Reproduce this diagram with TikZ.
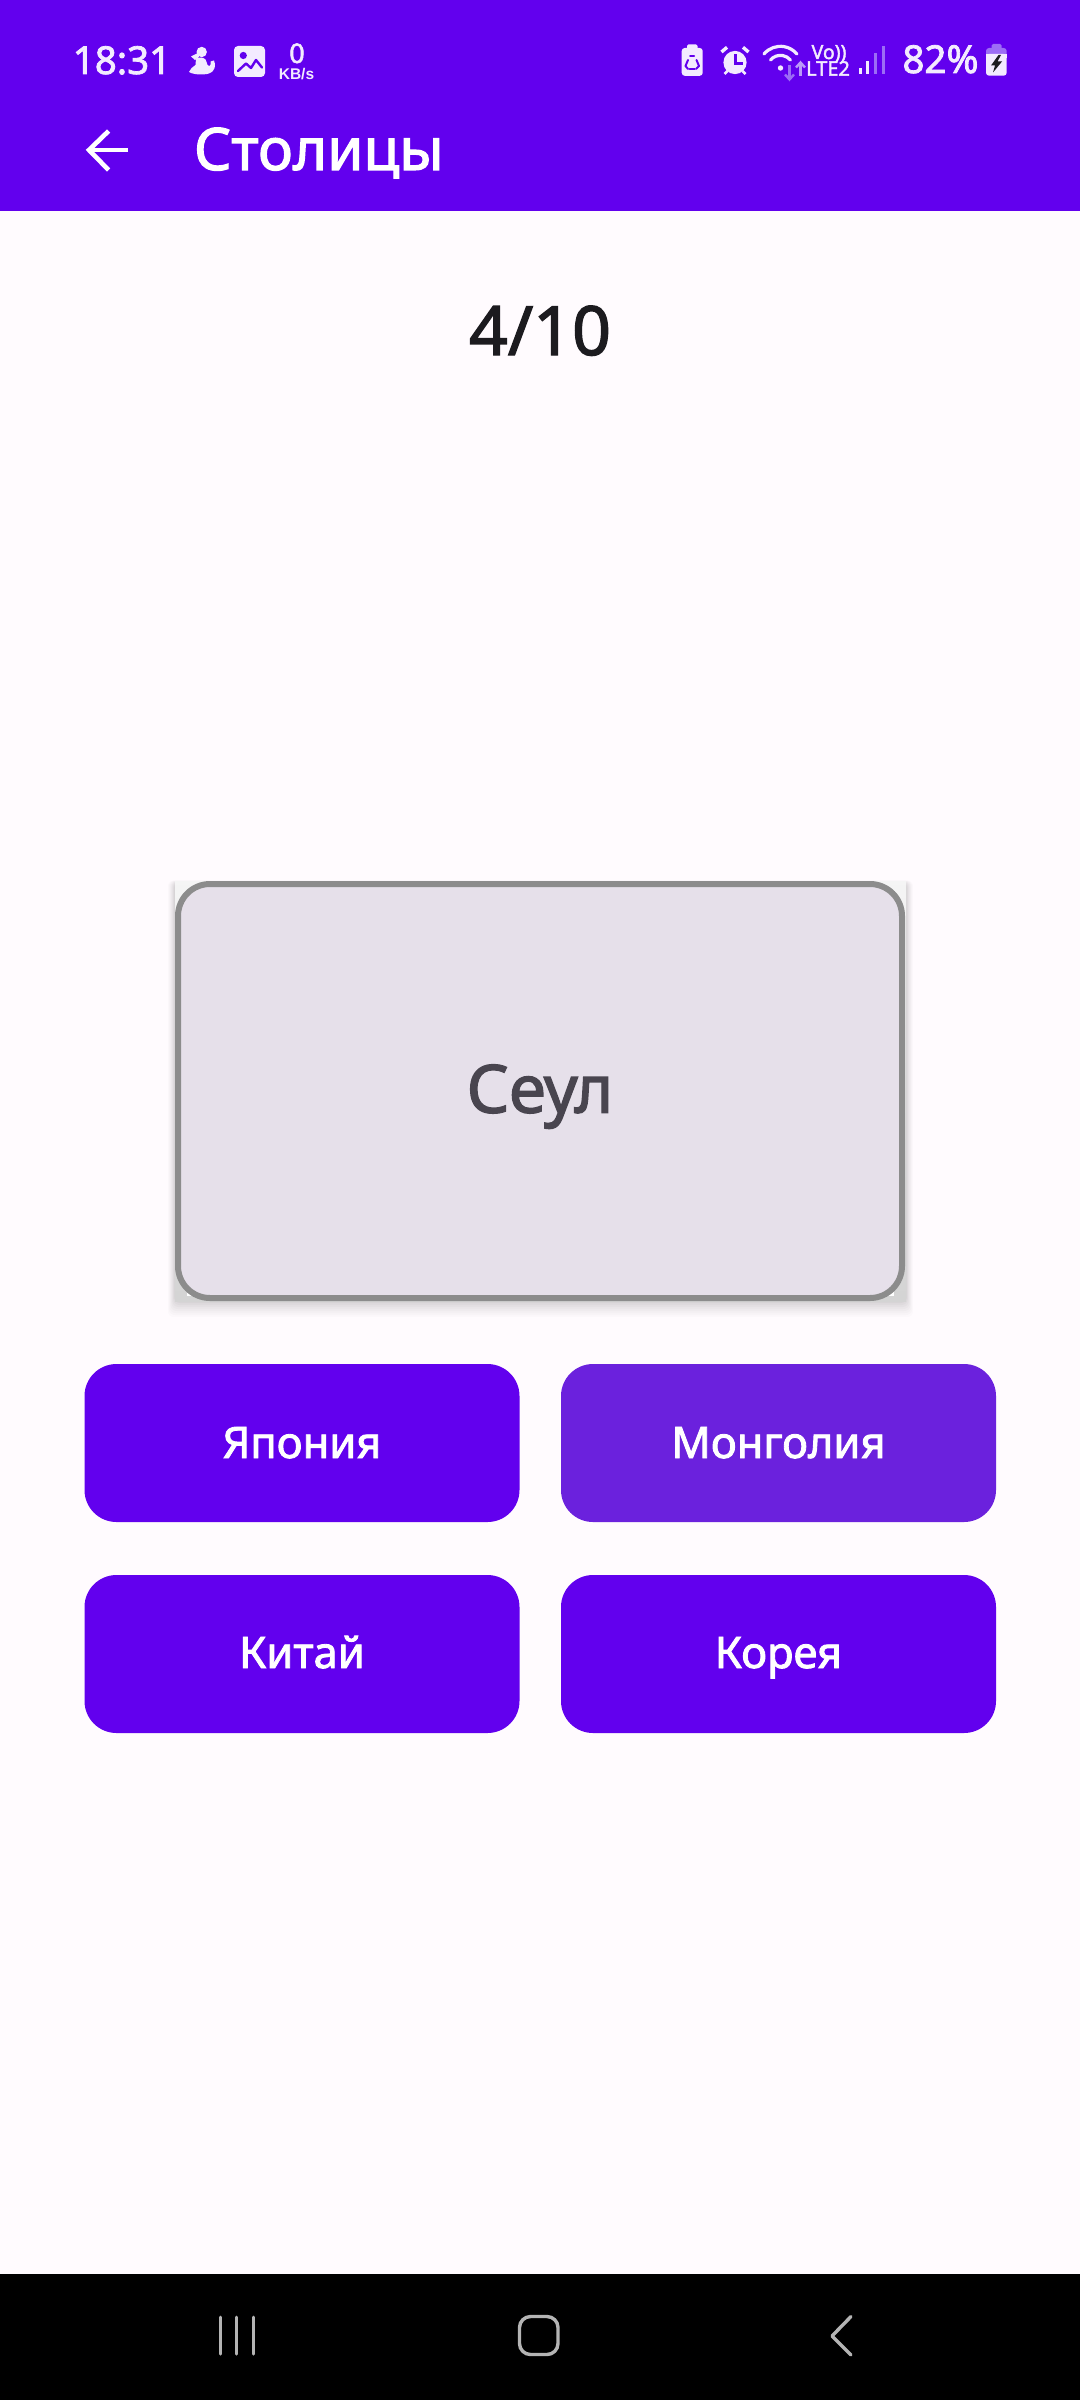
\documentclass[tikz,border=0pt]{standalone}
\usepackage{fontspec}
\setmainfont{Noto Sans}
\newfontfamily\medfont[FakeBold=2]{Noto Sans}
\newfontfamily\arialb{Liberation Sans Bold}
\newcommand{\pxsize}[1]{\fontsize{#1}{#1}\selectfont}
\definecolor{purp}{HTML}{6200EE}
\definecolor{purpb}{HTML}{6B21DD}
\definecolor{pagebg}{HTML}{FFFBFE}
\definecolor{cardbg}{HTML}{E6E0EA}
\definecolor{cardln}{HTML}{8C8C8C}
\definecolor{ink}{HTML}{1C1B1F}
\definecolor{cardink}{HTML}{49454F}
\definecolor{stat}{HTML}{F3EBFF}
\definecolor{lav}{HTML}{9C6DF5}
\definecolor{navc}{HTML}{B4B4B4}
\tikzset{
  txt/.style={inner sep=0pt,outer sep=0pt,anchor=base},
  btn/.style={draw=none,fill=purp,rounded corners=32pt,inner sep=0pt,outer sep=0pt,
    minimum width=435pt,minimum height=158pt,anchor=north west},
  btnlabel/.style={txt,text=white,font=\medfont\pxsize{43.5}},
  icon/.style={fill=stat,draw=none},
  nav/.style={draw=navc,line width=3pt,line cap=round,line join=round},
  hole/.style={draw=purp,line join=round,line cap=round}
}
\begin{document}
\begin{tikzpicture}[x=1pt,y=-1pt]
\useasboundingbox (0,0) rectangle (1080,2400);
\fill[pagebg] (0,0) rectangle (1080,2400);
% header and navigation bars
\fill[purp] (0,0) rectangle (1080,211);
\fill[black] (0,2274) rectangle (1080,2400);
% status bar left
\node[txt,text=stat,font=\medfont\pxsize{38.5}] (clock) at (122,74) {18:31};
\begin{scope}[icon]
\fill[stat] (201.7,52) circle (5.2);
\fill[stat] (198,53) -- (191,56.5) -- (195,60) -- (199,57) -- cycle;
\fill[stat] (196,58.5) .. controls (201,56.5) and (206,57.5) .. (206.5,62)
  .. controls (207,64.5) and (208,66.5) .. (209.5,66)
  .. controls (211,65.5) and (211,63) .. (210.5,61.5) -- (214,60.5)
  .. controls (216,65) and (215.5,71) .. (209,73.5)
  .. controls (204,75) and (194,75) .. (189,72)
  .. controls (190,69) and (193,66.5) .. (195.5,65) -- cycle;
\end{scope}
\fill[stat,rounded corners=4pt] (234,46) rectangle (265,77);
\fill[purp] (243.3,55.5) circle (3.6);
\draw[hole,line width=2.4pt,fill=stat] (238,71) -- (246,63.5) -- (251,68) -- (256,60) -- (262,67.5);
\node[txt,text=stat,font=\medfont\pxsize{27}] (kb0) at (297,63) {0};
\node[txt,text=stat,font=\arialb\pxsize{15.5}] (kbs) at (296.5,80) {KB/s};
% status bar right: battery saver
\fill[stat,rounded corners=1.5pt] (687,44.3) rectangle (697.5,50);
\fill[stat,rounded corners=3pt] (681.7,48) rectangle (702.7,75.8);
\draw[hole,line width=2pt] (690,56.5) -- (694,56.5);
\draw[hole,line width=2pt] (696.5,60) -- (699,66) -- (696,69);
\draw[hole,line width=2pt] (688,69) -- (685.5,66) -- (688,60);
\draw[hole,line width=2pt] (689.5,69) -- (694.5,69);
% alarm
\fill[stat] (735,62.5) circle (11.6);
\draw[stat,line width=3.4pt] (721.5,52) -- (727,47.3);
\draw[stat,line width=3.4pt] (748.5,52) -- (743,47.3);
\draw[stat,line width=2.6pt] (724.5,74) -- (727.5,71);
\draw[stat,line width=2.6pt] (745.5,74) -- (742.5,71);
\draw[hole,line width=2.6pt,line join=miter,line cap=butt] (735.5,54.5) -- (735.5,63.5) -- (743,63.5);
% wifi
\draw[stat,line width=3.2pt,line cap=round] (764,54) arc[start angle=220,end angle=320,radius=21.5];
\draw[stat,line width=3.2pt,line cap=round] (770.5,60) arc[start angle=220,end angle=320,radius=13];
\fill[stat] (780.5,68) circle (2.7);
\draw[lav,line width=2.4pt] (789.5,65) -- (789.5,79);
\draw[lav,line width=2.4pt] (785,74.5) -- (789.5,79.5) -- (794,74.5);
\draw[lav!70!white,line width=2.4pt] (800.5,76) -- (800.5,63);
\draw[lav!70!white,line width=2.4pt] (796,67.5) -- (800.5,62.5) -- (805,67.5);
% network text
\node[txt,text=stat,font=\medfont\pxsize{19.5}] (volte) at (829,59) {Vo))};
\node[txt,text=stat,font=\medfont\pxsize{20}] (lte) at (828,75.7) {LTE2};
% signal
\fill[stat] (858.5,68) rectangle (861.5,74.3);
\fill[stat] (866,61) rectangle (869,74.3);
\fill[lav] (874.3,53) rectangle (877.3,74.3);
\fill[lav] (882.3,46) rectangle (885.3,74.3);
\node[txt,text=stat,font=\medfont\pxsize{38.5}] (pct) at (940.5,73) {82\%};
% battery
\fill[lav,rounded corners=1.5pt] (991.7,44) rectangle (1001.7,50);
\fill[lav,rounded corners=3pt] (986,48) rectangle (1006.7,60);
\fill[stat,rounded corners=3pt] (986,54) rectangle (1006.7,75.7);
\fill[stat] (986,54) rectangle (1006.7,58);
\fill[ink] (998.5,55) -- (991,65.5) -- (995,65.5) -- (993,72.5) -- (1002,61.5) -- (997.5,61.5) -- (1001,55) -- cycle;
% app bar
\draw[white,line width=4.6pt] (128,150) -- (90,150);
\draw[white,line width=4.6pt,line join=miter] (108.6,131) -- (89,150) -- (108.6,170);
\node[txt,anchor=base west,text=white,font=\medfont\pxsize{58.5}] (title) at (194,170) {Столицы};
% counter
\node[txt,text=ink,font=\medfont\pxsize{68}] (counter) at (540,355) {4/10};
% card shadow
\foreach \g/\o in {16/.012,14/.014,12/.016,10/.018,8/.02,6/.022,4/.024,2/.026}{
  \fill[black,opacity=\o,rounded corners=6pt] (175-\g*.45,881+1-\g*.1) rectangle (906+\g*.45,1301+\g);
}
\shade[top color=black!4,bottom color=black!17] (175,881) rectangle (906,1301);
\fill[white] (187,1292) rectangle (196,1296);
\fill[white] (885,1292) rectangle (894,1296);
% card
\node[draw=cardln,fill=cardbg,line width=6pt,rounded corners=32pt,inner sep=0pt,outer sep=0pt,
  minimum width=724pt,minimum height=414pt,anchor=north west] (card) at (178,884) {};
\node[txt,text=cardink,font=\medfont\pxsize{66.5}] (cardtext) at (540,1112.7) {Сеул};
% answer buttons
\node[btn] (b1) at (84.5,1364) {};
\node[btn,fill=purpb] (b2) at (561,1364) {};
\node[btn] (b3) at (84.5,1575) {};
\node[btn] (b4) at (561,1575) {};
\node[btnlabel] (t1) at (b1.center |- 0,1458) {Япония};
\node[btnlabel] (t2) at (b2.center |- 0,1458) {Монголия};
\node[btnlabel] (t3) at (b3.center |- 0,1668) {Китай};
\node[btnlabel] (t4) at (b4.center |- 0,1668) {Корея};
% navigation bar icons
\draw[nav] (220,2317) -- (220,2354);
\draw[nav] (236.6,2317) -- (236.6,2354);
\draw[nav] (253,2317) -- (253,2354);
\draw[nav,line width=3.4pt,rounded corners=11pt] (519.5,2316.5) rectangle (558,2354.5);
\draw[nav,line width=3.4pt] (851,2316.5) -- (832,2336) -- (851,2355);
\end{tikzpicture}
\end{document}
